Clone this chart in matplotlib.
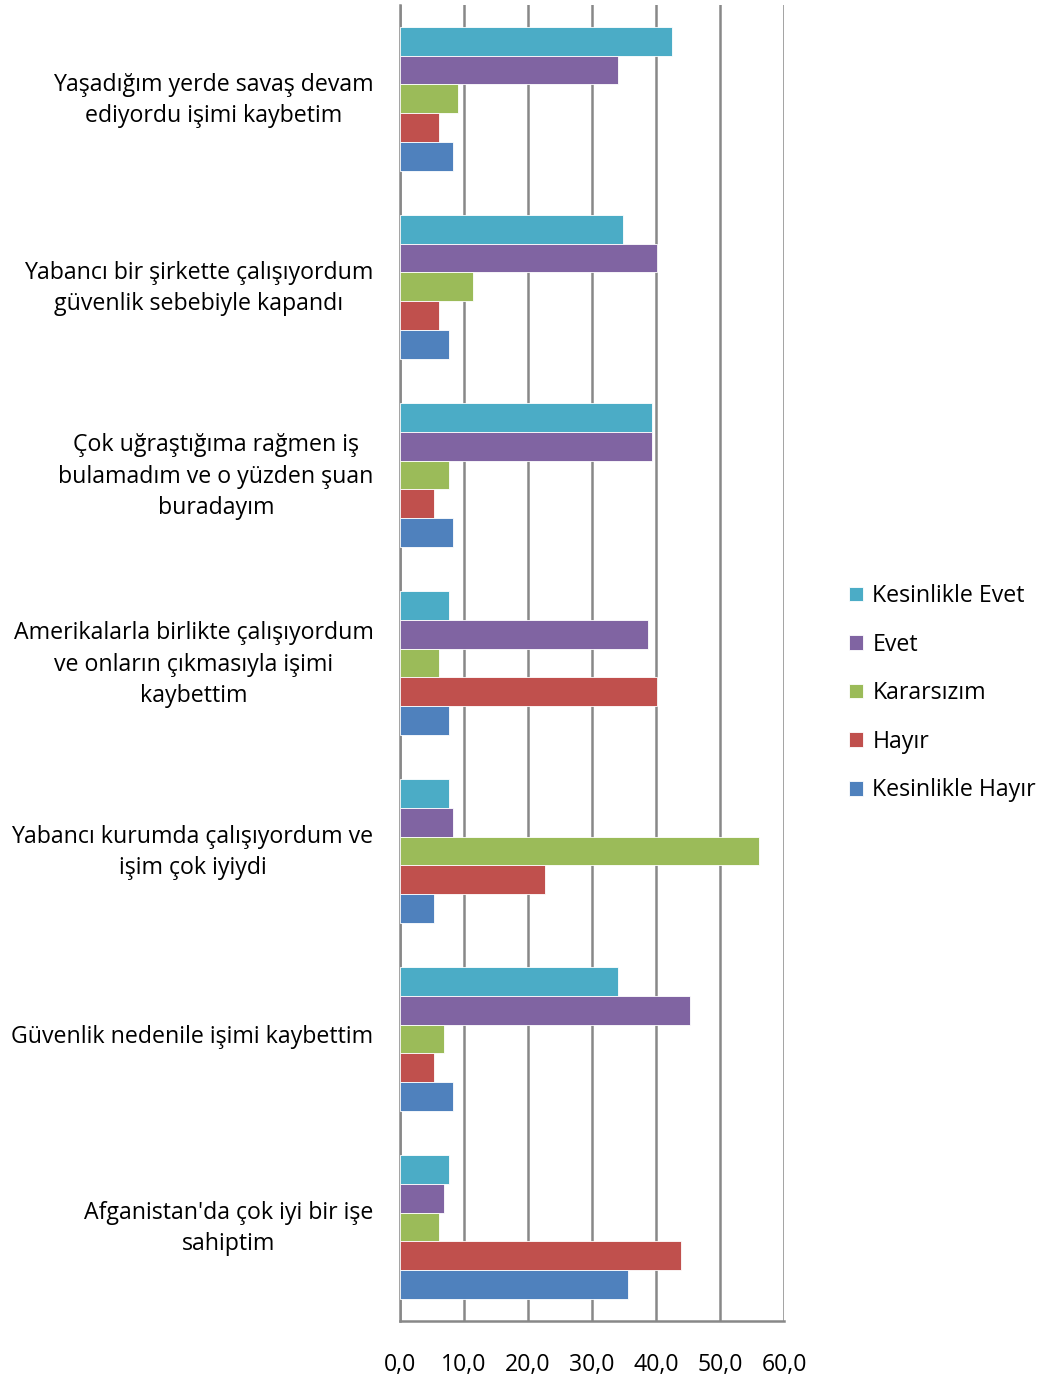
import matplotlib.pyplot as plt
import matplotlib.transforms as mtransforms
import numpy as np

plt.rcParams['font.family'] = ['Open Sans', 'DejaVu Sans']

categories = [
    "Yaşadığım yerde savaş devam\nediyordu işimi kaybetim",
    "Yabancı bir şirkette çalışıyordum\ngüvenlik sebebiyle kapandı",
    "Çok uğraştığıma rağmen iş\nbulamadım ve o yüzden şuan\nburadayım",
    "Amerikalarla birlikte çalışıyordum\nve onların çıkmasıyla işimi\nkaybettim",
    "Yabancı kurumda çalışıyordum ve\nişim çok iyiydi",
    "Güvenlik nedenile işimi kaybettim",
    "Afganistan'da çok iyi bir işe\nsahiptim",
]
series = ["Kesinlikle Evet", "Evet", "Kararsızım", "Hayır", "Kesinlikle Hayır"]
kesinlikle_evet = [42.5, 34.8, 39.4, 7.6, 7.6, 34.1, 7.6]
evet = [34.1, 40.2, 39.4, 38.7, 8.3, 45.3, 6.8]
kararsizim = [9.1, 11.4, 7.6, 6.1, 56.1, 6.8, 6.1]
hayir = [6.1, 6.1, 5.3, 40.2, 22.7, 5.3, 43.9]
kesinlikle_hayir = [8.3, 7.6, 8.3, 7.6, 5.3, 8.3, 35.6]
values = [kesinlikle_evet, evet, kararsizim, hayir, kesinlikle_hayir]
colors = ["#4BACC6", "#8064A2", "#9BBB59", "#C0504D", "#4F81BD"]

fig = plt.figure(figsize=(10.43, 13.79), dpi=100)
ax = fig.add_axes([0.3835, 0.042, 0.3682, 0.9545])

y = np.arange(len(categories))
h = 0.153
for i, (name, vals, c) in enumerate(zip(series, values, colors)):
    ax.barh(y - 2 * h + i * h, vals, height=h, color=c, label=name,
            edgecolor='white', linewidth=0.6, zorder=3)

fs = 16.7
ax.set_xlim(0, 60)
ax.set_ylim(len(categories) - 0.5, -0.5)
ax.set_xticks(np.arange(0, 61, 10))
ax.set_xticklabels([f"{v:.1f}".replace('.', ',') for v in np.arange(0, 61, 10)], fontsize=fs)
ax.set_yticks(y)
ax.set_yticklabels(categories, fontsize=fs, linespacing=1.4, multialignment='center')
ax.tick_params(axis='y', length=0, pad=19, colors='black')
ax.tick_params(axis='x', length=0, pad=23, colors='black')
# nudge category labels up a little
shift = mtransforms.ScaledTranslation(0, 5 / 100, fig.dpi_scale_trans)
for lbl in ax.get_yticklabels():
    lbl.set_transform(lbl.get_transform() + shift)
ax.grid(axis='x', color='#888888', linewidth=1.8, zorder=0)
for s in ['top', 'right']:
    ax.spines[s].set_visible(False)
for s in ['left', 'bottom']:
    ax.spines[s].set_color('#888888')
    ax.spines[s].set_linewidth(1.8)

ax.legend(loc='center left', bbox_to_anchor=(1.115, 0.477), frameon=False,
          fontsize=fs, handlelength=0.6, handleheight=0.6,
          labelspacing=1.06, handletextpad=0.4)

fig.savefig("out.png", dpi=100)
